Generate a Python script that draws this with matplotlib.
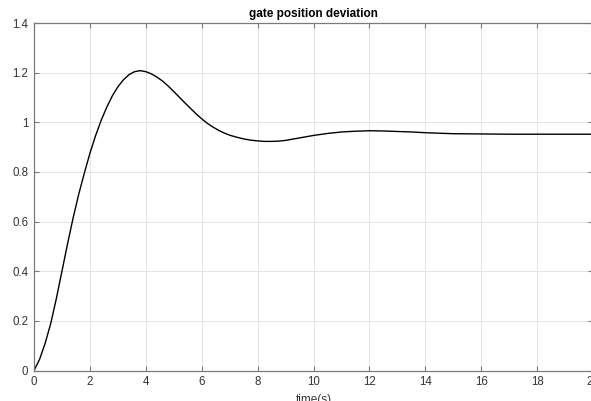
import matplotlib
matplotlib.use('Agg')
import matplotlib.pyplot as plt

plt.rcParams['font.family'] = ['Liberation Sans', 'DejaVu Sans']

## step response
t = [0, 0.2, 0.4, 0.6, 0.8, 1.0, 1.2, 1.4, 1.6, 1.8, 2.0, 2.2, 2.4, 2.6, 2.8,
     3.0, 3.2, 3.4, 3.6, 3.8, 4.0, 4.2, 4.4, 4.6, 4.8, 5.0, 5.2, 5.4, 5.6, 5.8,
     6.0, 6.2, 6.4, 6.6, 6.8, 7.0, 7.25, 7.5, 7.75, 8.0, 8.25, 8.5, 8.75, 9.0,
     9.5, 10.0, 10.5, 11.0, 11.5, 12.0, 12.5, 13.0, 13.5, 14.0, 14.5, 15.0,
     16.0, 17.0, 18.0, 19.0, 20.0]
y = [0, 0.045, 0.11, 0.19, 0.29, 0.40, 0.51, 0.615, 0.71, 0.795, 0.875,
     0.945, 1.007, 1.06, 1.106, 1.143, 1.171, 1.192, 1.204, 1.208, 1.204,
     1.195, 1.182, 1.166, 1.146, 1.124, 1.101, 1.078, 1.056, 1.034, 1.014,
     0.996, 0.981, 0.968, 0.957, 0.948, 0.940, 0.933, 0.928, 0.925, 0.923,
     0.923, 0.924, 0.927, 0.937, 0.947, 0.955, 0.961, 0.964, 0.966, 0.965,
     0.963, 0.961, 0.958, 0.956, 0.954, 0.953, 0.952, 0.952, 0.952, 0.952]

xticks = [0, 2, 4, 6, 8, 10, 12, 14, 16, 18, 20]
yticks = [0, 0.2, 0.4, 0.6, 0.8, 1.0, 1.2, 1.4]
ylabels = ['0', '0.2', '0.4', '0.6', '0.8', '1', '1.2', '1.4']

fig = plt.figure(figsize=(5.91, 4.01), dpi=100)
ax = fig.add_axes([34/591, 30.5/401, 559/591, 347.5/401])

ax.plot(t, y, color='black', lw=1.0)

ax.set_xlim(0, 20)
ax.set_ylim(0, 1.4)
ax.set_xticks(xticks)
ax.set_xticklabels([str(v) for v in xticks])
ax.set_yticks(yticks)
ax.set_yticklabels(ylabels)
ax.grid(True, color='#e3e3e3', lw=0.7)
ax.set_axisbelow(True)

for s in ax.spines.values():
    s.set_color('#7a7a7a')
    s.set_linewidth(0.9)
ax.tick_params(direction='in', length=3.5, width=0.8, color='#7a7a7a',
               labelcolor='#333333', labelsize=8.3, top=True, right=True, pad=4)

ax.set_title('gate position deviation', fontsize=8.5, fontweight='bold', pad=4)
ax.set_xlabel('time(s)', fontsize=8.5, color='#333333', labelpad=4)

fig.savefig('out.png', dpi=100)
